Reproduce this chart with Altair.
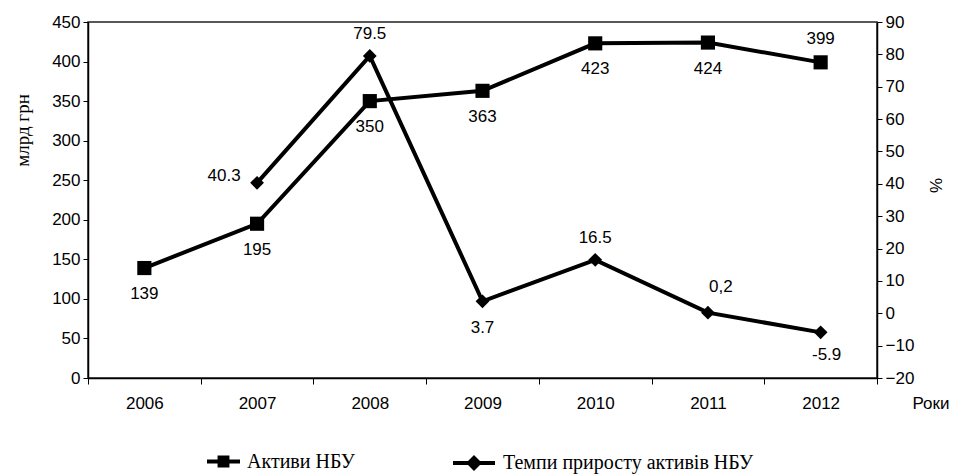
import altair as alt
import pandas as pd

# ---- data ----
years = [2006, 2007, 2008, 2009, 2010, 2011, 2012]
assets = [139, 195, 350, 363, 423, 424, 399]
asset_labels = ["139", "195", "350", "363", "423", "424", "399"]

growth_years = [2007, 2008, 2009, 2010, 2011, 2012]
growth = [40.3, 79.5, 3.7, 16.5, 0.2, -5.9]
growth_labels = ["40.3", "79.5", "3.7", "16.5", "0,2", "-5.9"]

s_assets = "Активи НБУ"
s_growth = "Темпи приросту активів НБУ"

df_a = pd.DataFrame({"year": years, "value": assets, "label": asset_labels, "series": s_assets})
df_g = pd.DataFrame({"year": growth_years, "value": growth, "label": growth_labels, "series": s_growth})

SANS = "Liberation Sans, Arial, sans-serif"
SERIF = "Times New Roman, Liberation Serif, DejaVu Serif, serif"
FS = 17

x_enc = alt.X(
    "year:O",
    scale=alt.Scale(type="band", paddingInner=0, paddingOuter=0, domain=years),
    bandPosition=0.5,
    axis=alt.Axis(
        title="Роки", tickBand="extent", labelAngle=0, tickSize=6,
        labelPadding=11, labelFont=SANS, labelFontSize=FS, labelColor="black",
        domainColor="black", tickColor="black",
        titleFont=SANS, titleFontSize=FS, titleFontWeight="normal",
        titleAnchor="start", titleAlign="left", titleBaseline="middle",
        titleX=824, titleY=25,
    ),
)

# ---- left axis: assets ----
ya = alt.Y(
    "value:Q",
    scale=alt.Scale(domain=[0, 450], nice=False),
    axis=alt.Axis(
        title="млрд грн", values=list(range(0, 451, 50)), grid=False,
        tickSize=5, labelPadding=3, labelFont=SANS, labelFontSize=FS, labelColor="black",
        domainColor="black", tickColor="black",
        titleFont=SERIF, titleFontSize=19, titleFontWeight="normal",
        titleX=-66, titleY=108, titleAngle=-90, titleAlign="center", titleBaseline="middle",
    ),
)
base_a = alt.Chart(df_a).encode(x=x_enc, y=ya)
line_a = base_a.mark_line(color="black", strokeWidth=4)
pts_a = base_a.mark_point(shape="square", filled=True, size=200, opacity=1).encode(
    fill=alt.Fill(
        "series:N",
        scale=alt.Scale(domain=[s_assets], range=["black"]),
        legend=alt.Legend(
            title=None, orient="none", legendX=119, legendY=423, padding=0,
            symbolType="M-1,-0.12L1,-0.12L1,0.12L-1,0.12Z M-0.36,-0.36L0.36,-0.36L0.36,0.36L-0.36,0.36Z",
            symbolSize=33 * 33, symbolStrokeWidth=0, labelOffset=7, labelLimit=0,
            labelFont=SERIF, labelFontSize=20, labelColor="black",
        ),
    )
)
above_a = [2012]
txt_a_below = base_a.mark_text(font=SANS, fontSize=FS, color="black", dy=26).encode(text="label:N").transform_filter(
    ~alt.FieldOneOfPredicate(field="year", oneOf=above_a))
txt_a_above = base_a.mark_text(font=SANS, fontSize=FS, color="black", dy=-23).encode(text="label:N").transform_filter(
    alt.FieldOneOfPredicate(field="year", oneOf=above_a))
layer_a = alt.layer(line_a, pts_a, txt_a_below, txt_a_above)

# ---- right axis: growth ----
yg = alt.Y(
    "value:Q",
    scale=alt.Scale(domain=[-20, 90], nice=False),
    axis=alt.Axis(
        orient="right", title="%", values=list(range(-20, 91, 10)), grid=False,
        tickSize=5, labelPadding=3, labelFont=SANS, labelFontSize=FS, labelColor="black",
        domainColor="black", tickColor="black",
        titleFont=SANS, titleFontSize=FS, titleFontWeight="normal",
        titleX=59, titleY=163, titleAngle=-90, titleAlign="center", titleBaseline="middle",
    ),
)
base_g = alt.Chart(df_g).encode(x=x_enc, y=yg)
line_g = base_g.mark_line(color="black", strokeWidth=4)
pts_g = base_g.mark_point(shape="diamond", filled=True, size=190, opacity=1).encode(
    fill=alt.Fill(
        "series:N",
        scale=alt.Scale(domain=[s_growth], range=["black"]),
        legend=alt.Legend(
            title=None, orient="none", legendX=365, legendY=420, padding=0,
            symbolType="M-1,-0.1L1,-0.1L1,0.1L-1,0.1Z M0,-0.38L0.38,0L0,0.38L-0.38,0Z",
            symbolSize=42 * 42, symbolStrokeWidth=0, labelOffset=8, labelLimit=0,
            labelFont=SERIF, labelFontSize=20, labelColor="black",
        ),
    )
)
g_above = [2008, 2010]
g_below = [2009]
txt_g_above = base_g.mark_text(font=SANS, fontSize=FS, color="black", dy=-22).encode(text="label:N").transform_filter(
    alt.FieldOneOfPredicate(field="year", oneOf=g_above))
txt_g_below = base_g.mark_text(font=SANS, fontSize=FS, color="black", dy=27).encode(text="label:N").transform_filter(
    alt.FieldOneOfPredicate(field="year", oneOf=g_below))
txt_g_left = base_g.mark_text(font=SANS, fontSize=FS, color="black", dx=-33, dy=-7).encode(text="label:N").transform_filter(
    alt.FieldOneOfPredicate(field="year", oneOf=[2007]))
txt_g_ur = base_g.mark_text(font=SANS, fontSize=FS, color="black", dx=13, dy=-26).encode(text="label:N").transform_filter(
    alt.FieldOneOfPredicate(field="year", oneOf=[2011]))
txt_g_lr = base_g.mark_text(font=SANS, fontSize=FS, color="black", dx=6, dy=23).encode(text="label:N").transform_filter(
    alt.FieldOneOfPredicate(field="year", oneOf=[2012]))
layer_g = alt.layer(line_g, pts_g, txt_g_above, txt_g_below, txt_g_left, txt_g_ur, txt_g_lr)

chart = (
    alt.layer(layer_a, layer_g)
    .resolve_scale(y="independent", fill="independent")
    .resolve_legend(fill="independent")
    .properties(
        width=789, height=356,
        autosize=alt.AutoSizeParams(type="none"),
        padding={"left": 80, "top": 14, "right": 73, "bottom": 96},
        background="white",
    )
    .configure_view(stroke="#222", strokeWidth=1.5)
    .configure_axis(domainWidth=1.5, tickWidth=1)
)

chart.save("out.html", embed_options={"renderer": "svg", "actions": False})
